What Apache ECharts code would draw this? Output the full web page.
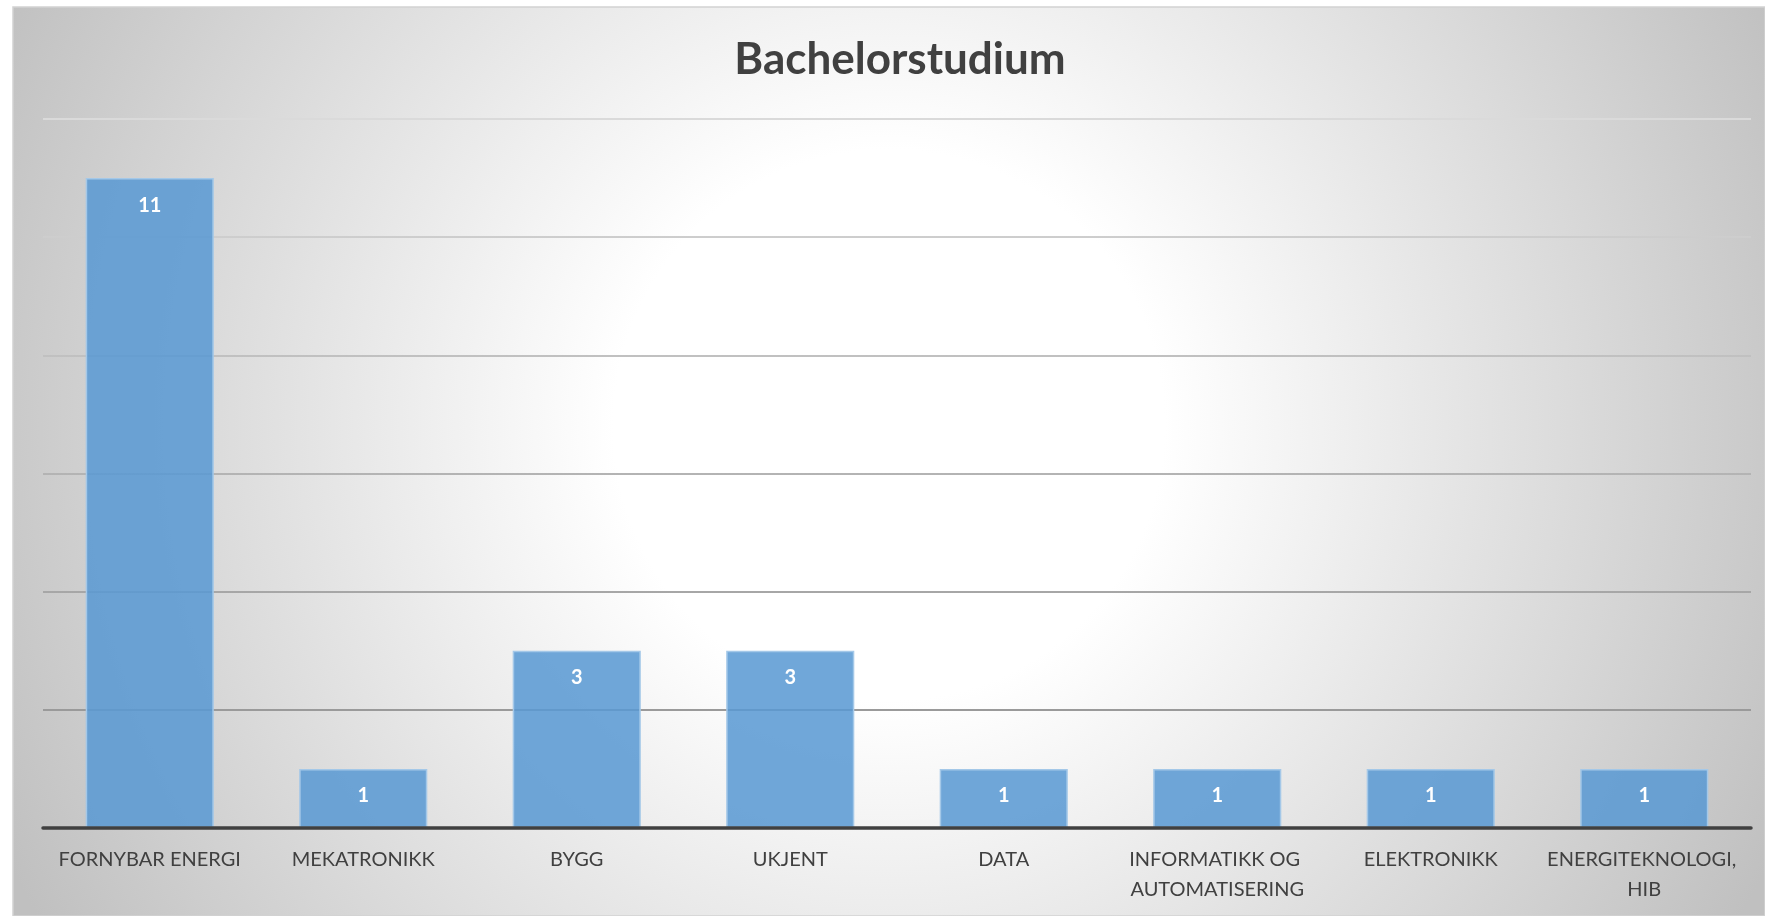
<!DOCTYPE html>
<html>
<head>
<meta charset="utf-8">
<script src="https://cdn.jsdelivr.net/npm/echarts@6/dist/echarts.min.js"></script>
<style>
  html, body { margin: 0; padding: 0; background: #fff; }
  #chart { width: 1765px; height: 916px; }
</style>
</head>
<body>
<div id="chart"></div>
<script>
// studieretninger og antall
var categories = ['FORNYBAR ENERGI', 'MEKATRONIKK', 'BYGG', 'UKJENT', 'DATA',
  'INFORMATIKK OG AUTOMATISERING', 'ELEKTRONIKK', 'ENERGITEKNOLOGI, HIB']
var counts = [11, 1, 3, 3, 1, 1, 1, 1]
var titleText = 'Bachelorstudium'

var chart = echarts.init(document.getElementById('chart'))

var gridColor = new echarts.graphic.LinearGradient(0, 119, 0, 710, [
  { offset: 0, color: '#dadada' },
  { offset: 1, color: '#9a9a9a' }
], true)

chart.setOption({
  animation: false,
  textStyle: { fontFamily: 'Lato' },
  graphic: [{
    type: 'rect',
    z: -10,
    silent: true,
    shape: { x: 13, y: 7, width: 1752, height: 909 },
    style: {
      fill: new echarts.graphic.RadialGradient(0.5, 0.46, 1.08, [
        { offset: 0, color: '#ffffff' },
        { offset: 0.28, color: '#ffffff' },
        { offset: 1, color: '#c0c0c0' }
      ]),
      stroke: '#d2d2d2',
      lineWidth: 1.5
    }
  }],
  title: {
    text: titleText,
    left: 895,
    top: 33,
    textAlign: 'center',
    textStyle: {
      fontFamily: 'Lato',
      fontSize: 44,
      fontWeight: 'bold',
      color: '#404040'
    }
  },
  grid: {
    left: 43,
    right: 14,
    top: 119,
    bottom: 88,
    containLabel: false
  },
  xAxis: {
    type: 'category',
    data: categories,
    z: 10,
    axisTick: { show: false },
    axisLine: { show: true, lineStyle: { color: '#404040', width: 3.5 } },
    axisLabel: {
      interval: 0,
      margin: 17,
      color: '#404040',
      fontSize: 20,
      lineHeight: 30,
      width: 205,
      overflow: 'break',
      align: 'center'
    }
  },
  yAxis: {
    type: 'value',
    min: 0,
    max: 12,
    interval: 2,
    axisLabel: { show: false },
    axisLine: { show: false },
    axisTick: { show: false },
    splitLine: { lineStyle: { color: gridColor, width: 2 } }
  },
  series: [{
    type: 'bar',
    data: counts,
    barWidth: '60%',
    itemStyle: {
      color: 'rgba(88,152,211,0.86)',
      borderColor: '#a4c8e8',
      borderWidth: 1.5
    },
    label: {
      show: true,
      position: 'insideTop',
      distance: 17,
      color: '#ffffff',
      fontSize: 20,
      fontWeight: 'bold',
      fontFamily: 'Lato'
    }
  }]
})
</script>
</body>
</html>
